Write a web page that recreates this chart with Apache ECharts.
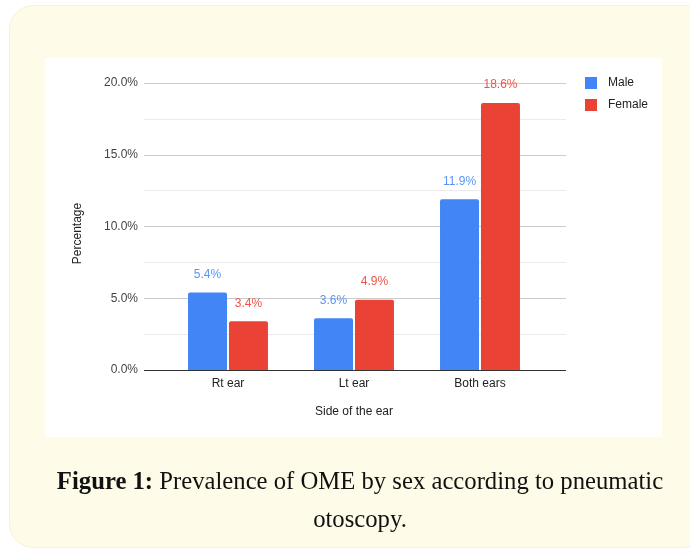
<!DOCTYPE html>
<html><head><meta charset="utf-8">
<script src="https://cdn.jsdelivr.net/npm/echarts@6/dist/echarts.min.js"></script>
<style>html,body{margin:0;padding:0;background:#fff}#c{width:690px;height:550px}</style>
</head><body><div id="c"></div>
<script>
const categories = ['Rt ear', 'Lt ear', 'Both ears'];
const maleValues = [5.4, 3.6, 11.9];
const femaleValues = [3.4, 4.9, 18.6];
const seriesNames = ['Male', 'Female'];
const yTicks = [0, 5, 10, 15, 20];

const chart = echarts.init(document.getElementById('c'));
const font = "'Liberation Sans', Arial, sans-serif";
const serif = "'Liberation Serif', 'Times New Roman', serif";
chart.setOption({
  animation: false,
  backgroundColor: '#fff',
  graphic: [
    {type: 'rect', z: -10, shape: {x: 9.5, y: 5.5, width: 700, height: 542, r: 24}, style: {fill: '#fffbe9', stroke: '#f8f1d4', lineWidth: 1}},
    {type: 'rect', z: -9, shape: {x: 45, y: 58, width: 617, height: 379}, style: {fill: '#ffffff'}}
  ],
  title: {
    left: 355, top: 459, textAlign: 'center',
    text: '{b|Figure 1:}{n| Prevalence of OME by sex according to pneumatic}\n{n|otoscopy.}',
    textStyle: {
      fontFamily: serif, fontSize: 24.7, lineHeight: 38, color: '#111', fontWeight: 'normal',
      rich: {
        b: {fontFamily: serif, fontSize: 24.7, fontWeight: 'bold', color: '#111', lineHeight: 38},
        n: {fontFamily: serif, fontSize: 24.7, fontWeight: 'normal', color: '#111', lineHeight: 38}
      }
    }
  },
  legend: {
    orient: 'vertical', left: 580, top: 72, itemWidth: 12, itemHeight: 12, itemGap: 10,
    icon: 'rect', data: seriesNames,
    textStyle: {fontFamily: font, fontSize: 12, color: '#222', padding: [0, 0, 0, 6]}
  },
  grid: [
    {left: 144, top: 83, width: 422, height: 287},
    {left: 165, top: 83, width: 378, height: 287}
  ],
  xAxis: [
    {gridIndex: 0, type: 'value', min: 0, max: 1, show: false},
    {gridIndex: 1, type: 'category', data: categories,
     axisLine: {show: false}, axisTick: {show: false},
     axisLabel: {fontFamily: font, fontSize: 12, color: '#222', margin: 8},
     name: 'Side of the ear', nameLocation: 'middle', nameGap: 36,
     nameTextStyle: {fontFamily: font, fontSize: 12, color: '#222'}}
  ],
  yAxis: [
    {gridIndex: 0, type: 'value', min: 0, max: 20, interval: 5,
     axisLine: {show: false}, axisTick: {show: false},
     axisLabel: {fontFamily: font, fontSize: 12, color: '#444', margin: 6, formatter: v => v.toFixed(1) + '%'},
     splitLine: {show: true, lineStyle: {color: ['#333333', '#cccccc', '#cccccc', '#cccccc', '#cccccc']}},
     minorTick: {show: false, splitNumber: 2},
     minorSplitLine: {show: true, lineStyle: {color: '#ebebeb'}},
     name: 'Percentage', nameLocation: 'middle', nameGap: 60,
     nameTextStyle: {fontFamily: font, fontSize: 12, color: '#222', padding: [0, 0, 0, -14]}},
    {gridIndex: 1, type: 'value', min: 0, max: 20, show: false, splitLine: {show: false}}
  ],
  series: [
    {name: seriesNames[0], type: 'bar', xAxisIndex: 1, yAxisIndex: 1, data: maleValues,
     barWidth: 39, barGap: '5%', itemStyle: {color: '#4285f4', borderRadius: [2, 2, 0, 0]},
     label: {show: true, position: 'top', distance: 12, fontFamily: font, fontSize: 12, color: '#5a95f5', formatter: p => p.value.toFixed(1) + '%'}},
    {name: seriesNames[1], type: 'bar', xAxisIndex: 1, yAxisIndex: 1, data: femaleValues,
     barWidth: 39, barGap: '5%', itemStyle: {color: '#ea4335', borderRadius: [2, 2, 0, 0]},
     label: {show: true, position: 'top', distance: 12, fontFamily: font, fontSize: 12, color: '#ee5548', formatter: p => p.value.toFixed(1) + '%'}}
  ]
});
</script></body></html>
